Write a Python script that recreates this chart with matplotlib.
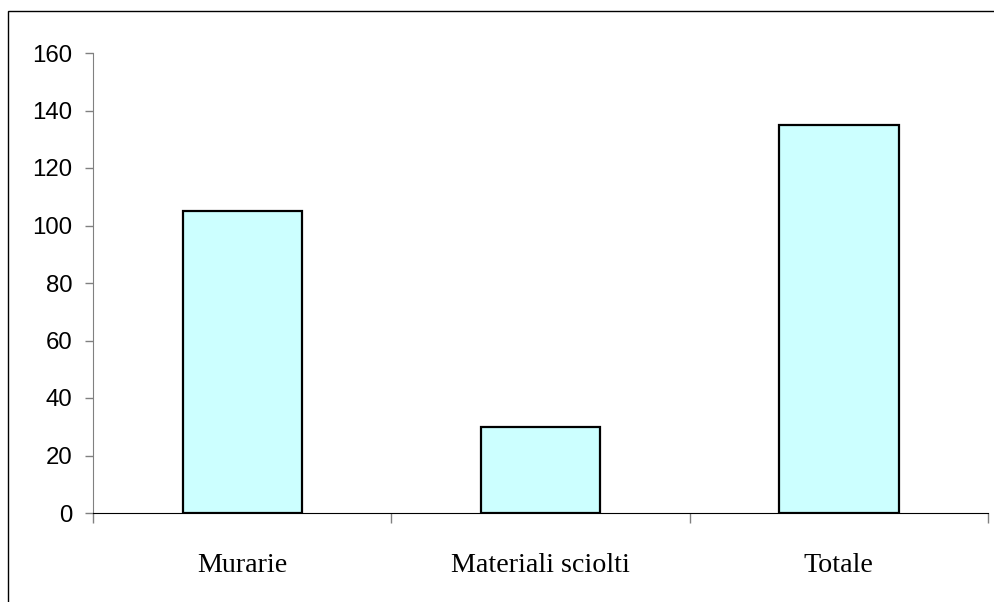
import matplotlib
matplotlib.use("Agg")
import matplotlib.pyplot as plt
from matplotlib.patches import Rectangle

categories = ["Murarie", "Materiali sciolti", "Totale"]
values = [105, 30, 135]
yticks = [0, 20, 40, 60, 80, 100, 120, 140, 160]

W, H, DPI = 994, 602, 100
fig = plt.figure(figsize=(W / DPI, H / DPI), dpi=DPI)
fig.patch.set_facecolor("white")

# outer chart frame (left and top edges visible)
fig.patches.append(Rectangle((8 / W, -0.1), 1.2, (H - 11) / H + 0.1,
                             transform=fig.transFigure, fill=False,
                             edgecolor="black", linewidth=1.0))

ax = fig.add_axes([93 / W, 89 / H, (988 - 93) / W, (513 - 53) / H])
x = list(range(len(categories)))
ax.bar(x, values, width=0.4, color="#CCFFFF", edgecolor="black", linewidth=1.6, zorder=3)

ax.set_xlim(-0.5, len(categories) - 0.5)
ax.set_ylim(0, 160)
ax.set_yticks(yticks)
ax.set_yticklabels([str(v) for v in yticks], fontfamily="Liberation Sans", fontsize=17.3)

ax.set_xticks([i - 0.5 for i in range(len(categories) + 1)])
ax.set_xticklabels([])
ax.set_xticks(x, minor=True)
ax.set_xticklabels(categories, minor=True, fontfamily="Liberation Serif", fontsize=20.2)
ax.tick_params(axis="x", which="major", direction="out", length=7.5, color="#808080", width=1)
ax.tick_params(axis="x", which="minor", length=0, pad=28.5)
ax.tick_params(axis="y", direction="out", length=6, color="#808080", width=1, pad=9)

for s in ("top", "right"):
    ax.spines[s].set_visible(False)
ax.spines["left"].set_color("#808080")
ax.spines["bottom"].set_color("black")
ax.spines["left"].set_zorder(4)
ax.spines["bottom"].set_zorder(4)

fig.savefig("out.png", dpi=DPI)
